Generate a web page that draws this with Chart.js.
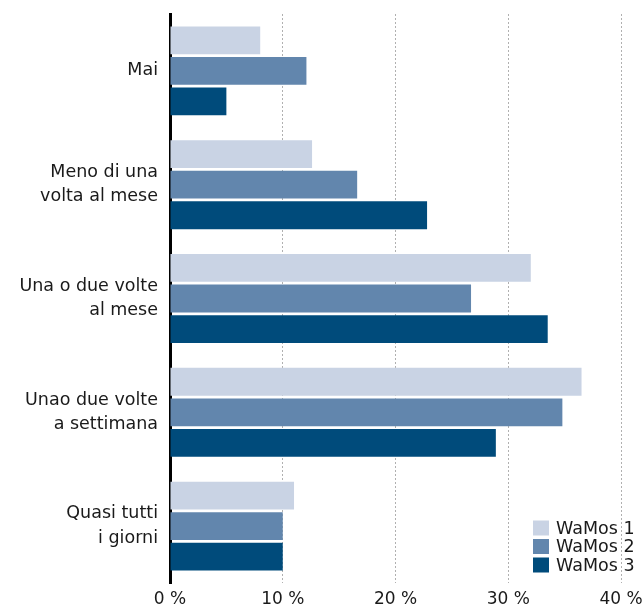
<!DOCTYPE html>
<html>
<head>
<meta charset="utf-8">
<script src="https://cdn.jsdelivr.net/npm/chart.js@4.4.0/dist/chart.umd.min.js"></script>
<style>
  html, body { margin: 0; padding: 0; background: #fff; }
  #wrap { width: 642px; height: 607px; }
</style>
</head>
<body>
<div id="wrap"><canvas id="chart"></canvas></div>
<script>
// categories (multi-line labels) and series
const categories = [
  ["Mai"],
  ["Meno di una", "volta al mese"],
  ["Una o due volte", "al mese"],
  ["Unao due volte", "a settimana"],
  ["Quasi tutti", "i giorni"]
];
const seriesNames = ["WaMos 1", "WaMos 2", "WaMos 3"];
const wamos1 = [8.0, 12.6, 32.0, 36.5, 11.0];
const wamos2 = [12.1, 16.6, 26.7, 34.8, 10.0];
const wamos3 = [5.0, 22.8, 33.5, 28.9, 10.0];
const xTicks = [0, 10, 20, 30, 40];
const colors = ["#c9d3e4", "#6286ad", "#004b7b"];

const FONT = "'DejaVu Sans'";
const TEXT = "#1a1a1a";

// legend drawn inside the plot, bottom right
const innerLegend = {
  id: "innerLegend",
  afterDatasetsDraw(chart) {
    const ctx = chart.ctx;
    ctx.save();
    ctx.font = "17.5px " + FONT;
    ctx.textBaseline = "middle";
    ctx.textAlign = "left";
    chart.data.datasets.forEach((ds, i) => {
      const cy = 528 + i * 18.5;
      ctx.fillStyle = ds.backgroundColor;
      ctx.fillRect(533, cy - 7.5, 16, 15);
      ctx.fillStyle = TEXT;
      ctx.fillText(ds.label, 556, cy + 1);
    });
    ctx.restore();
  }
};

const datasets = [wamos1, wamos2, wamos3].map((vals, i) => ({
  label: seriesNames[i],
  data: vals,
  backgroundColor: colors[i],
  barPercentage: 0.91,
  categoryPercentage: 0.805
}));

new Chart(document.getElementById("chart"), {
  type: "bar",
  data: { labels: categories, datasets },
  plugins: [innerLegend],
  options: {
    indexAxis: "y",
    responsive: true,
    maintainAspectRatio: false,
    animation: false,
    layout: { padding: { top: 14, right: 21, left: 0, bottom: 0 } },
    plugins: { legend: { display: false }, tooltip: { enabled: false } },
    scales: {
      x: {
        min: 0,
        max: 40,
        afterBuildTicks: s => { s.ticks = xTicks.map(v => ({ value: v })); },
        afterFit: s => { s.height = 24; s.paddingLeft = 0; s.paddingRight = 0; },
        ticks: {
          padding: 6,
          color: TEXT,
          font: { family: FONT, size: 17 },
          callback: v => v + " %"
        },
        grid: {
          color: "#b0b0b0",
          lineWidth: 1,
          drawTicks: false
        },
        border: { display: false, dash: [2, 2] }
      },
      y: {
        afterFit: s => { s.width = 170; s.paddingTop = 0; s.paddingBottom = 0; },
        ticks: {
          padding: 12,
          color: TEXT,
          font: { family: FONT, size: 17.5, lineHeight: 1.4 }
        },
        grid: { display: false, drawTicks: false },
        border: { color: "#000", width: 3 }
      }
    }
  }
});
</script>
</body>
</html>
